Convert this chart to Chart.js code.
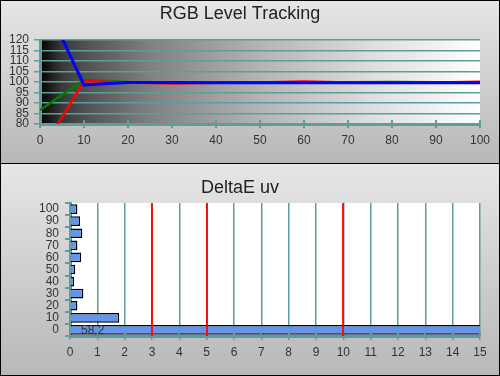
<!DOCTYPE html>
<html>
<head>
<meta charset="utf-8">
<script src="https://cdn.jsdelivr.net/npm/chart.js@4"></script>
<style>
  body { margin: 0; background: #fff; }
  #marco { position: relative; width: 500px; height: 376px; overflow: hidden; }
  .panel { position: absolute; left: 0; width: 500px; background: linear-gradient(#e6e6e6, #b8b8b8); }
  #panelArriba { top: 0; height: 163px; }
  #panelAbajo { top: 164px; height: 212px; }
  #separador { position: absolute; left: 0; top: 163px; width: 500px; height: 1px; background: #000; }
  #borde { position: absolute; left: 0; top: 0; width: 500px; height: 376px; box-sizing: border-box; border: 1px solid #000; pointer-events: none; }
  canvas { display: block; }
</style>
</head>
<body>
<div id="marco">
  <div class="panel" id="panelArriba"><canvas id="graficoRGB" width="500" height="163"></canvas></div>
  <div id="separador"></div>
  <div class="panel" id="panelAbajo"><canvas id="graficoDeltaE" width="500" height="212"></canvas></div>
  <div id="borde"></div>
</div>
<script>
// niveles de estimulo (%) y seguimiento RGB (%)
const niveles = [0, 10, 20, 30, 40, 50, 60, 70, 80, 90, 100];
const rojo = [66, 100.5, 99.8, 99.3, 99.7, 99.8, 100.2, 99.8, 99.9, 99.8, 100.1];
const verde = [86.7, 101, 100, 99.9, 99.8, 99.9, 99.9, 99.9, 100, 99.9, 99.9];
const azul = [143, 98.6, 99.8, 99.8, 99.7, 99.7, 99.6, 99.7, 99.6, 99.7, 99.7];

// DeltaE uv por nivel
const categorias = ["0", "10", "20", "30", "40", "50", "60", "70", "80", "90", "100"];
const deltaE = [58.2, 1.8, 0.27, 0.49, 0.15, 0.19, 0.41, 0.27, 0.45, 0.37, 0.27];
const umbrales = [3, 5, 10];

const TEAL = "#5f9c9c";
const FUENTE = "'Liberation Sans', Arial, sans-serif";
Chart.defaults.font.family = FUENTE;
Chart.defaults.color = "#333";

const puntos = (serie) => serie.map((valor, i) => ({ x: niveles[i], y: valor }));

// fondo del area de trazado
const fondoArea = {
  id: "fondoArea",
  beforeDraw(chart, args, opts) {
    const { ctx, chartArea: a } = chart;
    ctx.save();
    if (opts.degradado) {
      const g = ctx.createLinearGradient(a.left, 0, a.right, 0);
      [[0, 0], [0.05, 57], [0.1, 80], [0.25, 128], [0.5, 180], [0.75, 221], [1, 255]].forEach(([p, c]) => {
        g.addColorStop(p, `rgb(${c},${c},${c})`);
      });
      ctx.fillStyle = g;
    } else {
      ctx.fillStyle = "#fff";
    }
    ctx.fillRect(a.left, a.top, a.right - a.left, a.bottom - a.top);
    ctx.restore();
  }
};

// marcas del eje x que cruzan la linea del eje
const marcasCruzadas = {
  id: "marcasCruzadas",
  afterDatasetsDraw(chart) {
    const { ctx, chartArea: a } = chart;
    const escala = chart.scales.x;
    ctx.save();
    ctx.strokeStyle = TEAL;
    ctx.lineWidth = 2;
    escala.ticks.forEach((t) => {
      const px = Math.round(escala.getPixelForValue(t.value));
      ctx.beginPath();
      ctx.moveTo(px, a.bottom - 4);
      ctx.lineTo(px, a.bottom);
      ctx.stroke();
    });
    ctx.restore();
  }
};

// lineas rojas de umbral y etiqueta de la barra del nivel 0
const umbralesYEtiqueta = {
  id: "umbralesYEtiqueta",
  afterDatasetsDraw(chart) {
    const { ctx, chartArea: a } = chart;
    const escala = chart.scales.x;
    ctx.save();
    ctx.strokeStyle = "rgba(255,0,0,0.9)";
    ctx.lineWidth = 2;
    umbrales.forEach((u) => {
      const px = Math.round(escala.getPixelForValue(u));
      ctx.beginPath();
      ctx.moveTo(px, a.top);
      ctx.lineTo(px, a.bottom);
      ctx.stroke();
    });
    const barra = chart.getDatasetMeta(0).data[0];
    ctx.fillStyle = "#333";
    ctx.font = "12px " + FUENTE;
    ctx.textAlign = "left";
    ctx.textBaseline = "middle";
    ctx.fillText(deltaE[0].toString().replace(".", ","), escala.getPixelForValue(0) + 11, barra.y + 1);
    ctx.restore();
  }
};

new Chart(document.getElementById("graficoRGB"), {
  type: "line",
  data: {
    datasets: [
      { label: "B", data: puntos(azul), borderColor: "#0000ff", borderWidth: 3 },
      { label: "R", data: puntos(rojo), borderColor: "#ff0000", borderWidth: 2.5 },
      { label: "G", data: puntos(verde), borderColor: "#008000", borderWidth: 2.5 }
    ]
  },
  options: {
    responsive: false,
    animation: false,
    layout: { padding: { left: 0, right: 20, top: 0, bottom: 0 } },
    elements: { point: { radius: 0 }, line: { tension: 0 } },
    plugins: {
      legend: { display: false },
      tooltip: { enabled: false },
      title: {
        display: true,
        text: "RGB Level Tracking",
        color: "#222",
        font: { size: 18, weight: "normal" },
        padding: { top: 3, bottom: 15.4 }
      },
      fondoArea: { degradado: true }
    },
    scales: {
      x: {
        type: "linear",
        min: 0,
        max: 100,
        ticks: { stepSize: 10, padding: 5, autoSkip: false, maxRotation: 0, font: { size: 12 } },
        grid: { drawOnChartArea: false, color: TEAL, lineWidth: 2, tickLength: 4 },
        border: { color: TEAL, width: 3 },
        afterFit: (s) => { s.height = 39; }
      },
      y: {
        min: 80,
        max: 120,
        ticks: { stepSize: 5, padding: 5, autoSkip: false, font: { size: 12 } },
        grid: { color: TEAL, lineWidth: 1.5, tickLength: 6 },
        border: { color: TEAL, width: 3 },
        afterFit: (s) => { s.width = 40; }
      }
    }
  },
  plugins: [fondoArea, marcasCruzadas]
});

new Chart(document.getElementById("graficoDeltaE"), {
  type: "bar",
  data: {
    labels: categorias,
    datasets: [{
      label: "DeltaE uv",
      data: deltaE,
      backgroundColor: "#6495ed",
      borderColor: "#000",
      borderWidth: 1.5,
      barPercentage: 0.8,
      categoryPercentage: 1
    }]
  },
  options: {
    indexAxis: "y",
    responsive: false,
    animation: false,
    layout: { padding: { left: 0, right: 20, top: 0, bottom: 0 } },
    plugins: {
      legend: { display: false },
      tooltip: { enabled: false },
      title: {
        display: true,
        text: "DeltaE uv",
        color: "#222",
        font: { size: 18, weight: "normal" },
        padding: { top: 13, bottom: 4.4 }
      },
      fondoArea: { degradado: false }
    },
    scales: {
      x: {
        type: "linear",
        min: 0,
        max: 15,
        ticks: { stepSize: 1, padding: 5, autoSkip: false, maxRotation: 0, font: { size: 12 } },
        grid: { color: TEAL, lineWidth: 1.5, tickLength: 4 },
        border: { color: TEAL, width: 3 },
        afterFit: (s) => { s.height = 40; }
      },
      y: {
        reverse: true,
        ticks: { padding: 6, autoSkip: false, font: { size: 12 } },
        grid: { drawOnChartArea: false, color: TEAL, lineWidth: 2, tickLength: 5 },
        border: { color: TEAL, width: 3 },
        afterFit: (s) => { s.width = 70; }
      }
    }
  },
  plugins: [fondoArea, marcasCruzadas, umbralesYEtiqueta]
});
</script>
</body>
</html>
